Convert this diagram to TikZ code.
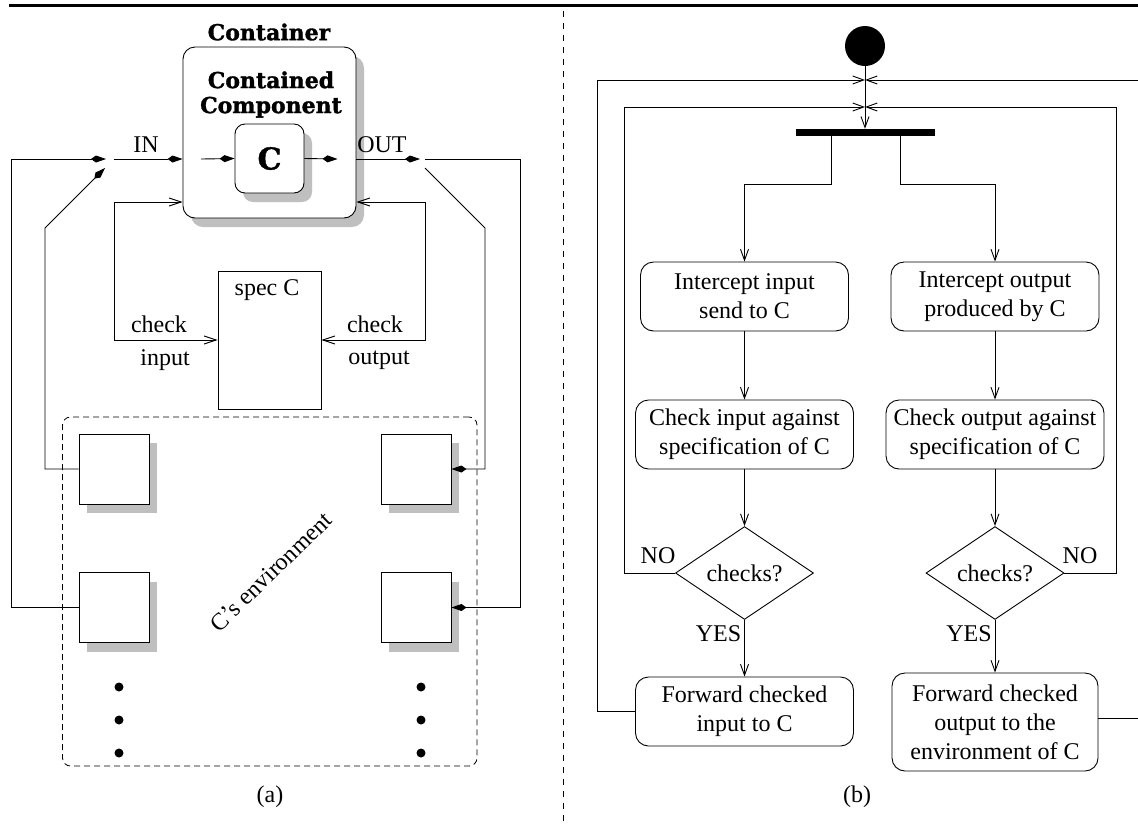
\documentclass[tikz,border=0pt]{standalone}
\usepackage{fontspec}
\setmainfont{Liberation Serif}
\newfontfamily\headfont{DejaVu Serif}[BoldFeatures={FakeBold=1.4}]
\usetikzlibrary{arrows.meta,shapes.geometric}

\definecolor{shade}{gray}{0.75}

\tikzset{
  wire/.style={line width=0.9pt},
  kite/.style={-{Kite[length=15pt,width=7pt,inset=5pt]}},
  barb/.style={-{Straight Barb[length=11pt,width=8pt]}},
  dblbarb/.style={{Straight Barb[length=12pt,width=8pt]}-{Straight Barb[length=12pt,width=8pt]}},
  shadowed/.style={preaction={fill=shade,draw=none,transform canvas={shift={(8pt,-9pt)}}}},
  panelbox/.style={draw,line width=0.9pt,fill=white,rounded corners=#1,inner sep=0pt},
  plainbox/.style={draw,line width=0.9pt,fill=white,inner sep=0pt},
  envbox/.style={plainbox,shadowed,minimum width=70pt,minimum height=70pt},
  dot/.style={circle,fill=black,inner sep=0pt,minimum size=9pt},
  head/.style={font=\headfont\bfseries\fontsize{22}{25}\selectfont,align=center},
  activity/.style={draw,line width=0.9pt,rounded corners=13pt,align=center,inner sep=0pt,minimum height=69pt},
  decision/.style={draw,line width=0.9pt,diamond,inner sep=0pt,minimum width=138pt,minimum height=69pt},
  lbl/.style={inner sep=0pt},
}

\begin{document}
\begin{tikzpicture}[x=1pt,y=-1pt,font=\fontsize{24}{29}\selectfont]
\clip (0,0) rectangle (1138,823);
\useasboundingbox (0,0) rectangle (1138,823);

% heading rule and separator between the two halves
\draw[line width=2.2pt] (9,5.5) -- (1138,5.5);
\draw[line width=0.8pt,dash pattern=on 6pt off 6pt] (563,11) -- (563,823);

% ---------------- (a) wrapper around C ----------------
\node[head] (ctitle) at (269,32) {Container};
\node[panelbox=12pt,shadowed,minimum width=173pt,minimum height=171pt] (container) at (269.5,132.5) {};
\node[head] (cctitle) at (271,94.5) {Contained\\Component};
\node[panelbox=10pt,shadowed,minimum width=69pt,minimum height=69pt,
      font=\headfont\bfseries\fontsize{30}{32}\selectfont] (cbox) at (269.5,158.5) {C};

\node[lbl] (inlbl) at (146,145) {IN};
\node[lbl] (outlbl) at (382,145) {OUT};

\node[plainbox,minimum width=103pt,minimum height=138pt] (spec) at (269.5,340) {};
\node[lbl] (speclbl) at (267,290) {spec C};
\node[lbl] (chkinA) at (159,324) {check};
\node[lbl] (chkinB) at (165,360) {input};
\node[lbl] (chkoutA) at (375,324) {check};
\node[lbl] (chkoutB) at (379,360) {output};

\node[draw,line width=0.8pt,dash pattern=on 6pt off 4pt,rounded corners=8pt,
      minimum width=414.5pt,minimum height=349pt] (env) at (269.75,591.5) {};
\node[envbox] (envTL) at (114,469) {};
\node[envbox] (envTR) at (416,469) {};
\node[envbox] (envBL) at (114,607.5) {};
\node[envbox] (envBR) at (416,607.5) {};
\node[dot] (dL1) at (119,687) {};
\node[dot] (dL2) at (119,720) {};
\node[dot] (dL3) at (119,753) {};
\node[dot] (dR1) at (421,687) {};
\node[dot] (dR2) at (421,720) {};
\node[dot] (dR3) at (421,753) {};
\node[lbl,rotate=44] (envlbl) at (271,572) {C’s environment};
\node[lbl] (capa) at (270,797) {(a)};

% switch points on the input and output side
\coordinate (inTip) at (106,159);
\coordinate (inFrom) at (113.6,159);
\coordinate (inDiag) at (105,168);
\coordinate (cIn) at (201,159);
\coordinate (cOut) at (337.5,159);
\coordinate (outTip) at (420,159);
\coordinate (outFrom) at (425,159);
\coordinate (outDiag) at (425,168);
\coordinate (ckL) at (114,202);
\coordinate (ckR) at (425,202);

\draw[wire,kite] (envBL.west) -| (11,159) -- (inTip);
\draw[wire,kite] (envTL.west) -| (45,228) -- (inDiag);
\draw[wire,kite] (inFrom) -- (container.west |- inFrom);
\draw[wire,kite] (cIn) -- (cbox.west);
\draw[wire,kite] (cbox.east) -- (cOut);
\draw[wire,kite] (container.east |- outTip) -- (outTip);
\draw[wire,kite] (outFrom) -- (520,159) |- (envBR.east);
\draw[wire,kite] (outDiag) -- (485,228) |- (envTR.east);

\draw[wire,dblbarb] (container.west |- ckL) -- (ckL) |- (spec.west);
\draw[wire,dblbarb] (container.east |- ckR) -- (ckR) |- (spec.east);

% ---------------- (b) activity diagram ----------------
\node[circle,fill=black,inner sep=0pt,minimum size=40pt] (init) at (865,46) {};
\node[fill=black,inner sep=0pt,minimum width=139pt,minimum height=7pt] (fork) at (865.5,132.5) {};

\node[activity,minimum width=208pt] (icIn) at (744.5,296.5) {Intercept input\\send to C};
\node[activity,minimum width=208pt] (icOut) at (995,296.5) {Intercept output\\produced by C};
\node[activity,minimum width=218pt] (ckIn) at (744.5,434.5) {Check input against\\specification of C};
\node[activity,minimum width=218pt] (ckOut) at (995,434.5) {Check output against\\specification of C};
\node[decision] (dIn) at (744.5,573) {checks?};
\node[decision] (dOut) at (995,573) {checks?};
\node[activity,minimum width=218pt] (fwdIn) at (744.5,711.5) {Forward checked\\input to C};
\node[activity,minimum width=206pt,minimum height=98pt] (fwdOut) at (995,722) {Forward checked\\output to the\\environment of C};

\node[lbl] (noL) at (658,556) {NO};
\node[lbl] (noR) at (1080,556) {NO};
\node[lbl] (yesL) at (718.5,634) {YES};
\node[lbl] (yesR) at (969,634) {YES};
\node[lbl] (capb) at (857,797) {(b)};

\coordinate (j1) at (865,80);
\coordinate (j2) at (865,107);

\draw[wire,barb] (init) -- (fork.north -| init);
\draw[wire,barb] ([xshift=-34pt]fork.south) -- ++(0,48) -| (icIn.north);
\draw[wire,barb] ([xshift=35pt]fork.south) -- ++(0,48) -| (icOut.north);
\draw[wire,barb] (icIn) -- (ckIn);
\draw[wire,barb] (icOut) -- (ckOut);
\draw[wire,barb] (ckIn) -- (dIn);
\draw[wire,barb] (ckOut) -- (dOut);
\draw[wire,barb] (dIn) -- (fwdIn);
\draw[wire,barb] (dOut) -- (fwdOut);

\draw[wire,barb] (dIn.west) -| (624,107) -- (j2);
\draw[wire,barb] (dOut.east) -| (1116,107) -- (j2);
\draw[wire,barb] (fwdIn.west) -| (597,80) -- (j1);
\draw[wire,barb] ([yshift=4pt]fwdOut.east) -- ++(60,0) |- (j1);
\end{tikzpicture}
\end{document}
